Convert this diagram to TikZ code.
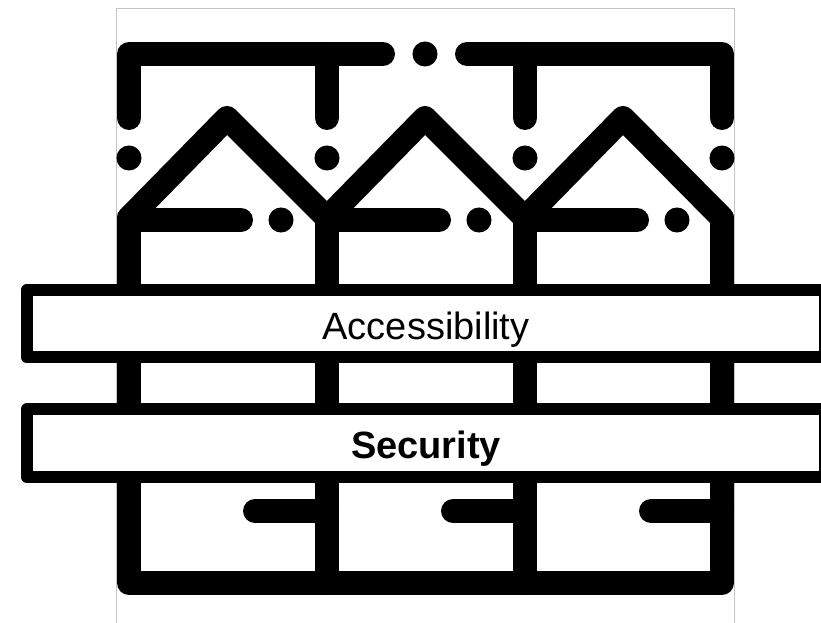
\documentclass[tikz,border=0pt]{standalone}
\usepackage{fontspec}
\setmainfont{Liberation Sans}
\usetikzlibrary{positioning}
\definecolor{icnclr}{RGB}{0,0,0}
\definecolor{frmclr}{RGB}{195,195,195}
\tikzset{
  icn/.style={draw=icnclr,line width=18pt,line cap=round,line join=round},
  dot/.style={circle,fill=icnclr,draw=none,minimum size=18.8pt,inner sep=0pt},
  frm/.style={draw=frmclr,line width=0.75pt},
  plank/.style={rectangle,draw=icnclr,fill=white,line width=9pt,line join=round,
    minimum width=599pt,minimum height=50.6pt,inner sep=0pt,
    text height=22.9pt,text depth=0pt,font=\fontsize{28.5pt}{30pt}\selectfont,align=center},
}
\begin{document}
\begin{tikzpicture}[x=0.75pt,y=-0.75pt,node distance=30pt]
  \useasboundingbox (0,0) rectangle (821,623);

  \draw[frm] (116,623)--(116,9)--(734,9)--(734,623);

  % top rail
  \draw[icn] (129,118)--(129,54)--(383,54);
  \draw[icn] (467,54)--(722,54)--(722,118);
  \foreach \x in {327,525}
    \draw[icn] (\x,54)--(\x,118);
  \node[dot] (dtop) at (425,54) {};

  % dots under the rail
  \foreach \x/\n in {129/a,327/b,525/c,722/d}
    \node[dot] (drail\n) at (\x,158) {};

  % pickets
  \draw[icn] (129,218)--(227,118)--(327,218)--(425,118)--(525,218)--(623,118)--(722,218);
  \draw[icn] (129,218)--(129,583)--(722,583)--(722,218);
  \foreach \x in {327,525}
    \draw[icn] (\x,218)--(\x,583);

  % short bars on the pickets
  \foreach \x/\e/\d/\n in {129/241/281/a,327/439/479/b,525/637/677/c}{
    \draw[icn] (\x,220)--(\e,220);
    \node[dot] (dbar\n) at (\d,220) {};
  }
  \foreach \a/\b in {255/327,453/525,651/722}
    \draw[icn] (\a,511)--(\b,511);

  \node[plank] (access) at (426,323.75) {Accessibility};
  \node[plank,below=of access] (secure) {\bfseries Security};
\end{tikzpicture}
\end{document}
